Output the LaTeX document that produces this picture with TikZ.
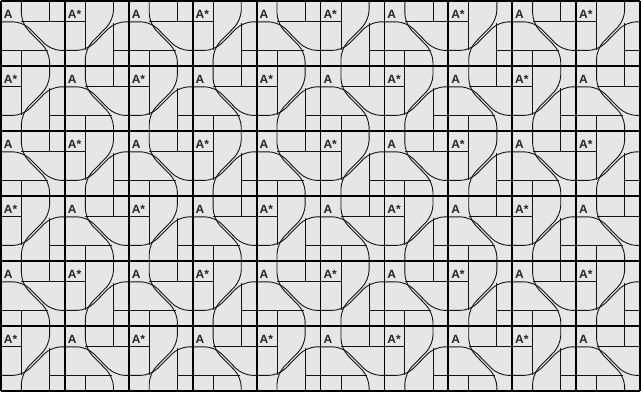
\documentclass[tikz,border=0pt]{standalone}
\usepackage{fontspec}
\setmainfont{Liberation Sans}
\definecolor{bg}{HTML}{E6E6E6}
\definecolor{ln}{HTML}{141414}
\def\Pp{0.32}
\def\Qq{0.76}
\def\Dd{0.025}
\tikzset{
  patline/.style={draw=ln, line width=0.9pt, rounded corners=10pt},
  cellborder/.style={draw=black, line width=1.8pt},
  lbl/.style={font=\fontsize{12}{12}\selectfont\bfseries, text=black!85, inner sep=0pt, anchor=base west},
}
\newcommand\cellA{%
  \draw[patline] (\Pp,0) -- (\Pp,{\Pp+\Dd}) -- (\Qq,{\Qq+\Dd}) -- (\Qq,1);
  \draw[patline] (0,\Pp) -- ({\Pp+\Dd},\Pp) -- ({\Qq+\Dd},\Qq) -- (1,\Qq);
  \draw[patline] (\Pp,\Pp) -- (1,\Pp);
  \draw[patline] (0,\Qq) -- ({\Qq-\Dd},\Qq);
  \draw[patline] (\Qq,0) -- (\Qq,\Pp);
  \draw[patline] (\Pp,\Qq) -- (\Pp,1);
}
\newcommand\cellB{%
  \draw[patline] (0,\Qq) -- ({\Pp+\Dd},\Qq) -- ({\Qq+\Dd},\Pp) -- (1,\Pp);
  \draw[patline] (\Pp,1) -- (\Pp,{\Qq-\Dd}) -- (\Qq,{\Pp-\Dd}) -- (\Qq,0);
  \draw[patline] (\Pp,0) -- (\Pp,\Qq);
  \draw[patline] (\Qq,1) -- (\Qq,{\Pp+\Dd});
  \draw[patline] (0,\Pp) -- (\Pp,\Pp);
  \draw[patline] (\Qq,\Qq) -- (1,\Qq);
}
\begin{document}
\begin{tikzpicture}[x=1pt,y=-1pt]
\useasboundingbox (0,0) rectangle (641,392);
\fill[bg] (0,0) rectangle (641,392);
\foreach \i in {0,...,9}{
  \foreach \j in {0,...,5}{
    \pgfmathtruncatemacro\t{mod(\i+\j,2)}
    \begin{scope}[shift={({1+63.9*\i},{1+65*\j})}, x=63.9pt, y=-65pt]
      \ifnum\t=0 \cellA\else\cellB\fi
    \end{scope}
    \ifnum\t=0
      \node[lbl] (L-\i-\j) at ({1+63.9*\i+2.8},{1+65*\j+17.5}) {A};
    \else
      \node[lbl] (L-\i-\j) at ({1+63.9*\i+2.8},{1+65*\j+17.5}) {A*};
    \fi
  }
}
\foreach \i in {0,...,10} \draw[cellborder] ({1+63.9*\i},1) -- ({1+63.9*\i},391);
\foreach \j in {0,...,6} \draw[cellborder] (1,{1+65*\j}) -- (640,{1+65*\j});
\end{tikzpicture}
\end{document}
